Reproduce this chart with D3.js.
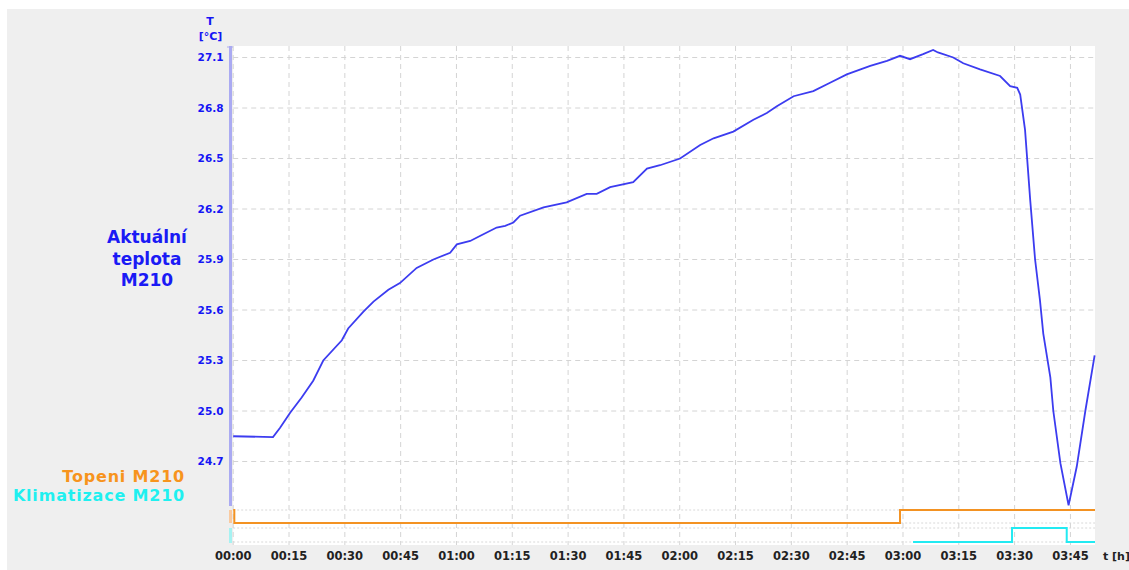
<!DOCTYPE html>
<html>
<head>
<meta charset="utf-8">
<script src="https://cdn.jsdelivr.net/npm/d3@7"></script>
<style>
  body { margin: 0; background: #fff; }
  svg text { font-family: "DejaVu Sans", sans-serif; font-weight: bold; }
</style>
</head>
<body>
<svg id="chart" width="1129" height="570"></svg>
<script>
// time in minutes from 00:00, temperature in °C
var tempTime = [0, 10.7, 12.6, 15.3, 18.4, 21.5, 24.2, 29.2, 30.9, 35.0, 37.7, 41.7, 44.8, 49.3,
  53.8, 58.3, 60.1, 63.7, 66.3, 70.8, 73.1, 75.3, 77.1, 83.4, 89.6, 95.0, 97.7, 101.3, 107.5,
  111.2, 114.7, 120.1, 125.5, 129.1, 134.4, 139.8, 143.4, 146.1, 150.6, 155.9, 160.4, 164.9,
  171.2, 175.7, 179.2, 181.9, 185.4, 188.1, 189.4, 193.5, 196.2, 200.7, 206.1, 208.8, 210.7,
  211.5, 212.8, 214.2, 215.5, 216.8, 217.7, 219.6, 220.4, 222.3, 224.5, 226.7, 229.0, 231.5];
var tempValue = [24.85, 24.845, 24.9, 24.99, 25.08, 25.18, 25.3, 25.42, 25.49, 25.59, 25.65, 25.72,
  25.76, 25.85, 25.9, 25.94, 25.99, 26.01, 26.04, 26.09, 26.1, 26.12, 26.16, 26.21, 26.24, 26.29,
  26.29, 26.33, 26.36, 26.44, 26.46, 26.5, 26.58, 26.62, 26.66, 26.73, 26.77, 26.81, 26.87, 26.9,
  26.95, 27.0, 27.05, 27.08, 27.11, 27.09, 27.12, 27.145, 27.13, 27.1, 27.066, 27.03, 26.99, 26.93,
  26.92, 26.88, 26.67, 26.25, 25.9, 25.66, 25.46, 25.2, 25.0, 24.69, 24.44, 24.67, 25.0, 25.33];

var topeniTime = [0, 0.3, 179.2, 231.6];
var topeniValue = [1, 0, 1, 1];
var klimaTime = [182.7, 209.3, 224.0, 231.6];
var klimaValue = [0, 1, 0, 0];

var yTicks = [24.7, 25.0, 25.3, 25.6, 25.9, 26.2, 26.5, 26.8, 27.1];
var xTicks = [0, 15, 30, 45, 60, 75, 90, 105, 120, 135, 150, 165, 180, 195, 210, 225];

var svg = d3.select("#chart");
var plotLeft = 233.2, plotRight = 1095, plotTop = 46, plotBottom = 545;

var x = d3.scaleLinear().domain([0, 231.6]).range([plotLeft, plotRight]);
var y = d3.scaleLinear().domain([24.7, 27.1]).range([461.5, 57.5]);
var yTop = d3.scaleLinear().domain([0, 1]).range([523, 510]);
var yKlim = d3.scaleLinear().domain([0, 1]).range([542, 528]);

function hhmm(m) {
  return d3.format("02d")(Math.floor(m / 60)) + ":" + d3.format("02d")(m % 60);
}

// backgrounds
svg.append("rect").attr("x", 7).attr("y", 9).attr("width", 1122).attr("height", 561).attr("fill", "#efefef");
svg.append("rect").attr("x", plotLeft).attr("y", plotTop)
    .attr("width", plotRight - plotLeft).attr("height", plotBottom - plotTop).attr("fill", "#fff");

// vertical grid
svg.append("g").selectAll("line").data(xTicks).enter().append("line")
    .attr("x1", function(d) { return x(d); }).attr("x2", function(d) { return x(d); })
    .attr("y1", plotTop).attr("y2", plotBottom)
    .attr("stroke", "#d4d4d4").attr("stroke-dasharray", "5,4");

// horizontal grid
svg.append("g").selectAll("line").data(yTicks).enter().append("line")
    .attr("x1", plotLeft).attr("x2", plotRight)
    .attr("y1", function(d) { return y(d); }).attr("y2", function(d) { return y(d); })
    .attr("stroke", "#d4d4d4").attr("stroke-dasharray", "5,4");

// digital channel grid
var chanLines = [yTop(1), yTop(0), yKlim(1), yKlim(0)];
svg.append("g").selectAll("line").data(chanLines).enter().append("line")
    .attr("x1", plotLeft).attr("x2", plotRight)
    .attr("y1", function(d) { return d; }).attr("y2", function(d) { return d; })
    .attr("stroke", "#d8d8d8").attr("stroke-dasharray", "2,2");

// axis bars
svg.append("rect").attr("x", 229).attr("y", 46).attr("width", 3).attr("height", 460).attr("fill", "#aaaaf2");
svg.append("line").attr("x1", 227).attr("x2", 233).attr("y1", 47).attr("y2", 47).attr("stroke", "#aaaaf2");
svg.append("rect").attr("x", 229).attr("y", 510).attr("width", 3).attr("height", 13).attr("fill", "#f9caa0");
svg.append("rect").attr("x", 229).attr("y", 528).attr("width", 3).attr("height", 15).attr("fill", "#a6f2f2");

// y tick labels
svg.append("g").selectAll("text").data(yTicks).enter().append("text")
    .attr("x", 223.5).attr("y", function(d) { return y(d); })
    .attr("dy", "0.36em").attr("text-anchor", "end")
    .attr("font-size", "10.5px").attr("fill", "#1515f5")
    .text(function(d) { return d3.format(".1f")(d); });

// x tick labels
svg.append("g").selectAll("text").data(xTicks).enter().append("text")
    .attr("x", function(d) { return x(d); }).attr("y", 560)
    .attr("text-anchor", "middle").attr("font-size", "11.5px").attr("fill", "#222")
    .text(function(d) { return hhmm(d); });
svg.append("text").attr("x", 1103).attr("y", 560).attr("font-size", "11px").attr("fill", "#222").text("t [h]");

// axis title
svg.append("text").attr("x", 210).attr("y", 25).attr("text-anchor", "middle")
    .attr("font-size", "11px").attr("fill", "#1515f5").text("T");
svg.append("text").attr("x", 210.5).attr("y", 40).attr("text-anchor", "middle")
    .attr("font-size", "11px").attr("fill", "#1515f5").text("[°C]");

// series labels
var nameLines = ["Aktuální", "teplota", "M210"];
svg.append("g").selectAll("text").data(nameLines).enter().append("text")
    .attr("x", 147).attr("y", function(d, i) { return 243 + i * 21.5; })
    .attr("text-anchor", "middle").attr("font-size", "17px").attr("fill", "#1a1af5")
    .text(function(d) { return d; });
svg.append("text").attr("x", 185).attr("y", 482).attr("text-anchor", "end")
    .attr("font-size", "16px").attr("letter-spacing", "0.8px")
    .attr("fill", "#f7941d").text("Topeni M210");
svg.append("text").attr("x", 185).attr("y", 500.5).attr("text-anchor", "end")
    .attr("font-size", "16px").attr("letter-spacing", "0.8px")
    .attr("fill", "#1ff0f0").text("Klimatizace M210");

// temperature line
var tempData = tempTime.map(function(t, i) { return [t, tempValue[i]]; });
svg.append("path").datum(tempData)
    .attr("fill", "none").attr("stroke", "#3c3cf0").attr("stroke-width", 1.8)
    .attr("d", d3.line().x(function(d) { return x(d[0]); }).y(function(d) { return y(d[1]); }));

// digital channels
var topeniData = topeniTime.map(function(t, i) { return [t, topeniValue[i]]; });
svg.append("path").datum(topeniData)
    .attr("fill", "none").attr("stroke", "#f39222").attr("stroke-width", 2)
    .attr("d", d3.line().curve(d3.curveStepAfter)
      .x(function(d) { return x(d[0]); }).y(function(d) { return yTop(d[1]); }));

var klimaData = klimaTime.map(function(t, i) { return [t, klimaValue[i]]; });
svg.append("path").datum(klimaData)
    .attr("fill", "none").attr("stroke", "#22eaf2").attr("stroke-width", 2)
    .attr("d", d3.line().curve(d3.curveStepAfter)
      .x(function(d) { return x(d[0]); }).y(function(d) { return yKlim(d[1]); }));
</script>
</body>
</html>
